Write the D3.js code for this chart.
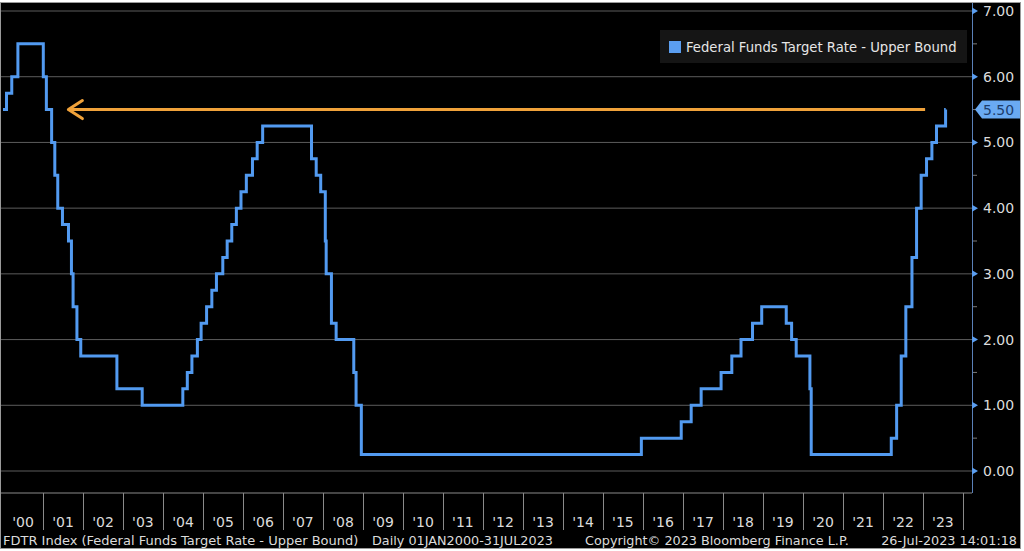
<!DOCTYPE html>
<html>
<head>
<meta charset="utf-8">
<script src="https://cdn.jsdelivr.net/npm/d3@7"></script>
<style>
  html, body { margin: 0; padding: 0; background: #fff; }
  svg { display: block; font-family: "DejaVu Sans", Verdana, sans-serif; }
</style>
</head>
<body>
<div id="chart"></div>
<script>
/* ── FDTR upper bound, step chart ─────────────────────────── */

// dates the target rate changed, and the new upper bound
const rateDates = [
  '2000-01-01', '2000-02-02', '2000-03-21', '2000-05-16',
  '2001-01-03', '2001-01-31', '2001-03-20', '2001-04-18', '2001-05-15',
  '2001-06-27', '2001-08-21', '2001-09-17', '2001-10-02', '2001-11-06', '2001-12-11',
  '2002-11-06', '2003-06-25',
  '2004-06-30', '2004-08-10', '2004-09-21', '2004-11-10', '2004-12-14',
  '2005-02-02', '2005-03-22', '2005-05-03', '2005-06-30', '2005-08-09',
  '2005-09-20', '2005-11-01', '2005-12-13',
  '2006-01-31', '2006-03-28', '2006-05-10', '2006-06-29',
  '2007-09-18', '2007-10-31', '2007-12-11',
  '2008-01-22', '2008-01-30', '2008-03-18', '2008-04-30', '2008-10-08',
  '2008-10-29', '2008-12-16',
  '2015-12-17', '2016-12-15',
  '2017-03-16', '2017-06-15', '2017-12-14',
  '2018-03-22', '2018-06-14', '2018-09-27', '2018-12-20',
  '2019-08-01', '2019-09-19', '2019-10-31',
  '2020-03-04', '2020-03-16',
  '2022-03-17', '2022-05-05', '2022-06-16', '2022-07-28', '2022-09-22',
  '2022-11-03', '2022-12-15',
  '2023-02-02', '2023-03-23', '2023-05-04', '2023-07-26', '2023-07-27'
];
const rateValues = [
  5.50, 5.75, 6.00, 6.50,
  6.00, 5.50, 5.00, 4.50, 4.00,
  3.75, 3.50, 3.00, 2.50, 2.00, 1.75,
  1.25, 1.00,
  1.25, 1.50, 1.75, 2.00, 2.25,
  2.50, 2.75, 3.00, 3.25, 3.50,
  3.75, 4.00, 4.25,
  4.50, 4.75, 5.00, 5.25,
  4.75, 4.50, 4.25,
  3.50, 3.00, 2.25, 2.00, 1.50,
  1.00, 0.25,
  0.50, 0.75,
  1.00, 1.25, 1.50,
  1.75, 2.00, 2.25, 2.50,
  2.25, 2.00, 1.75,
  1.25, 0.25,
  0.50, 1.00, 1.75, 2.50, 3.25,
  4.00, 4.50,
  4.75, 5.00, 5.25, 5.50, 5.50
];

const yearLabels = ["'00", "'01", "'02", "'03", "'04", "'05", "'06", "'07", "'08", "'09",
  "'10", "'11", "'12", "'13", "'14", "'15", "'16", "'17", "'18", "'19",
  "'20", "'21", "'22", "'23"];
const yTicks      = [0, 1, 2, 3, 4, 5, 6, 7];
const yMinorTicks = [0.5, 1.5, 2.5, 3.5, 4.5, 5.5, 6.5];
const lastValue   = 5.50;

// orange "back to 2001 levels" arrow
const arrowLevel = 5.5;
const arrowFrom  = '2001-08-20';
const arrowTo    = '2023-01-20';

const legendLabel = 'Federal Funds Target Rate - Upper Bound';
const footerLeft  = 'FDTR Index (Federal Funds Target Rate - Upper Bound)';
const footerRange = 'Daily 01JAN2000-31JUL2023';
const footerCopy  = 'Copyright\u00a9 2023 Bloomberg Finance L.P.';
const footerStamp = '26-Jul-2023 14:01:18';

// ── layout ───────────────────────────────────────────────────
const W = 1024, H = 551;
const PL = 3, PR = 963;          // x range of the year bands
const AX = 972;                  // right value axis
const YT = 11, Y0 = 471;         // 7.00 and 0.00
const PB = 493;                  // bottom of plot
const BAND_B = 530;

const BLUE   = '#529af0';
const ORANGE = '#f0a23a';
const TEXT   = '#dcdcdc';

const parse = d3.timeParse('%Y-%m-%d');
const series = rateDates.map((d, i) => ({ date: parse(d), value: rateValues[i] }));

const svg = d3.select('#chart').append('svg')
  .attr('width', W).attr('height', H);

svg.append('rect')
  .attr('x', 0.5).attr('y', 2.5).attr('width', 1020).attr('height', 546)
  .attr('fill', '#000').attr('stroke', '#9a9a9a');

// ── scales ───────────────────────────────────────────────────
const x = d3.scaleTime()
  .domain([parse('2000-01-01'), parse('2024-01-01')])
  .range([PL, PR]);
const y = d3.scaleLinear().domain([0, 7]).range([Y0, YT]);

// gridlines
svg.append('g').selectAll('line').data(yTicks).join('line')
  .attr('x1', 1).attr('x2', AX)
  .attr('y1', d => y(d)).attr('y2', d => y(d))
  .attr('stroke', '#5c5c5c').attr('stroke-width', 1);

// plot bottom + year bands
svg.append('line')
  .attr('x1', 1).attr('x2', AX).attr('y1', PB).attr('y2', PB)
  .attr('stroke', '#8a8a8a');

const years = d3.range(2000, 2024);
svg.append('g').selectAll('line').data(years.slice(1).concat([2024])).join('line')
  .attr('x1', d => Math.round(x(new Date(d, 0, 1))) + 0.5)
  .attr('x2', d => Math.round(x(new Date(d, 0, 1))) + 0.5)
  .attr('y1', PB).attr('y2', BAND_B)
  .attr('stroke', '#8a8a8a');

svg.append('g').selectAll('text').data(years).join('text')
  .attr('x', d => x(new Date(d, 6, 2)))
  .attr('y', 527)
  .attr('text-anchor', 'middle')
  .attr('font-size', 14)
  .attr('fill', TEXT)
  .text((d, i) => yearLabels[i]);

// ── right axis ───────────────────────────────────────────────
svg.append('line')
  .attr('x1', AX + 0.5).attr('x2', AX + 0.5).attr('y1', 3).attr('y2', PB)
  .attr('stroke', '#5a80b8');

svg.append('g').selectAll('path').data(yTicks).join('path')
  .attr('d', d => `M${AX},${y(d) - 3.5}L${AX + 6},${y(d)}L${AX},${y(d) + 3.5}Z`)
  .attr('fill', '#5b9ef0');

svg.append('g').selectAll('line').data(yMinorTicks).join('line')
  .attr('x1', AX + 1).attr('x2', AX + 5)
  .attr('y1', d => y(d)).attr('y2', d => y(d))
  .attr('stroke', '#7a7a7a');

svg.append('g').selectAll('text').data(yTicks).join('text')
  .attr('x', 983).attr('y', d => y(d) + 5)
  .attr('font-size', 14)
  .attr('fill', TEXT)
  .text(d => d.toFixed(2));

// last value tag
const ly = y(lastValue);
svg.append('path')
  .attr('d', `M${AX + 3},${ly}L${AX + 10},${ly - 9}L1020,${ly - 9}L1020,${ly + 9}L${AX + 10},${ly + 9}Z`)
  .attr('fill', '#6aaaf2');
svg.append('text')
  .attr('x', 983).attr('y', ly + 5)
  .attr('font-size', 14)
  .attr('fill', '#1d3d6c')
  .text(lastValue.toFixed(2));

// ── series ───────────────────────────────────────────────────
const line = d3.line()
  .x(d => x(d.date)).y(d => y(d.value))
  .curve(d3.curveStepAfter);

svg.append('path')
  .datum(series)
  .attr('d', line)
  .attr('fill', 'none')
  .attr('stroke', BLUE)
  .attr('stroke-width', 3)
  .attr('stroke-linejoin', 'miter');

// ── annotation arrow ─────────────────────────────────────────
const ay = y(arrowLevel);
const ax0 = x(parse(arrowFrom)), ax1 = x(parse(arrowTo));
svg.append('line')
  .attr('x1', ax0).attr('x2', ax1).attr('y1', ay).attr('y2', ay)
  .attr('stroke', ORANGE).attr('stroke-width', 3);
svg.append('path')
  .attr('d', `M${ax0 + 14},${ay - 9}L${ax0},${ay}L${ax0 + 14},${ay + 9}`)
  .attr('fill', 'none')
  .attr('stroke', ORANGE).attr('stroke-width', 3)
  .attr('stroke-linecap', 'round').attr('stroke-linejoin', 'round');

// ── legend ───────────────────────────────────────────────────
const lg = svg.append('g').attr('transform', 'translate(660,30)');
lg.append('rect').attr('width', 307).attr('height', 33).attr('fill', '#151515');
lg.append('rect').attr('x', 9).attr('y', 11).attr('width', 12).attr('height', 12)
  .attr('fill', '#5b9ef0');
lg.append('text').attr('x', 26).attr('y', 22)
  .attr('font-size', 13.2).attr('fill', '#e6e6e6')
  .text(legendLabel);

// ── footer ───────────────────────────────────────────────────
const foot = svg.append('g').attr('font-size', 12.8).attr('fill', TEXT);
foot.append('text').attr('x', 3).attr('y', 545).attr('font-size', 13).text(footerLeft);
foot.append('text').attr('x', 372).attr('y', 545).text(footerRange);
foot.append('text').attr('x', 585).attr('y', 545).text(footerCopy);
foot.append('text').attr('x', 1017).attr('y', 545).attr('text-anchor', 'end').text(footerStamp);
</script>
</body>
</html>
